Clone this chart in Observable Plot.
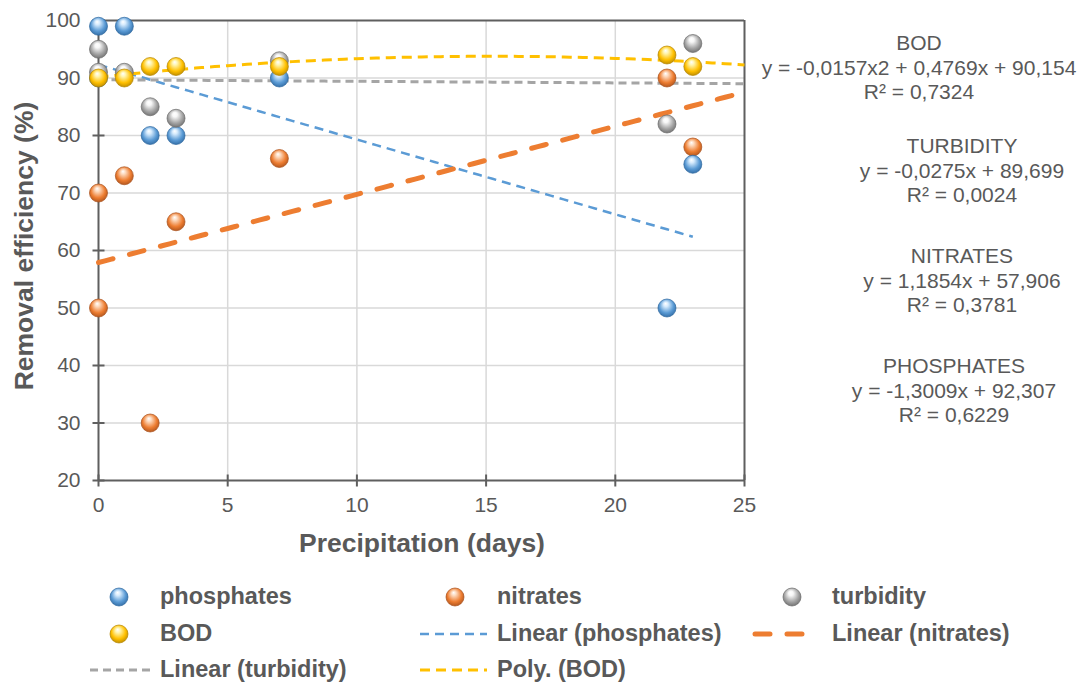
<!DOCTYPE html>
<html><head><meta charset="utf-8">
<script src="https://cdn.jsdelivr.net/npm/d3@7"></script>
<script src="https://cdn.jsdelivr.net/npm/@observablehq/plot@0.6"></script>
<style>
body{margin:0;background:#fff;}
#chart{position:relative;width:1085px;height:686px;font-family:"Liberation Sans",Arial,sans-serif;}
#chart svg{display:block;}
</style></head><body><div id="chart"></div>
<script>
// ---------- data ----------
const xTicks = [0, 5, 10, 15, 20, 25];
const yTicks = [20, 30, 40, 50, 60, 70, 80, 90, 100];
const xTitle = "Precipitation (days)";
const yTitle = "Removal efficiency (%)";

const seriesNames = ["phosphates", "nitrates", "turbidity", "BOD"];
const phosX = [0, 0, 1, 2, 3, 7, 22, 23];
const phosY = [99, 90, 99, 80, 80, 90, 50, 75];
const nitrX = [0, 0, 1, 2, 3, 7, 22, 23];
const nitrY = [70, 50, 73, 30, 65, 76, 90, 78];
const turbX = [0, 0, 1, 2, 3, 7, 22, 23];
const turbY = [95, 91, 91, 85, 83, 93, 82, 96];
const bodX = [0, 1, 2, 3, 7, 22, 23];
const bodY = [90, 90, 92, 92, 92, 94, 92];

const trendNames = ["Linear (phosphates)", "Linear (nitrates)", "Linear (turbidity)", "Poly. (BOD)"];
const trendCoef = [[92.307, -1.3009, 0], [57.906, 1.1854, 0], [89.699, -0.0275, 0], [90.154, 0.4769, -0.0157]];
const trendXmax = [23, 25, 25, 25];

const eqTitles = ["BOD", "TURBIDITY", "NITRATES", "PHOSPHATES"];
const eqLines = ["y = -0,0157x2 + 0,4769x + 90,154", "y = -0,0275x + 89,699", "y = 1,1854x + 57,906", "y = -1,3009x + 92,307"];
const eqR2 = ["R² = 0,7324", "R² = 0,0024", "R² = 0,3781", "R² = 0,6229"];

// ---------- styles ----------
const FONT = '"Liberation Sans", Arial, Helvetica, sans-serif';
const TXT = "#595959";
const AX = "#5f5f5f";
const base = ["#5B9BD5", "#ED7D31", "#A5A5A5", "#FFC000"];
const light = ["#d6ebfd", "#fdd9bd", "#f7f7f7", "#fff5b0"];
const dark = ["#2d679f", "#a9501b", "#6a6a6a", "#b58500"];
const trendStroke = ["#5B9BD5", "#ED7D31", "#A5A5A5", "#FFC000"];
const trendWidth = [2.5, 5, 3, 3];
const trendDash = ["9,6", "15,17", "8,5", "10,6"];
const trendCap = ["butt", "round", "butt", "butt"];

const pts = (xs, ys) => xs.map((x, i) => ({x, y: ys[i]}));
const seriesData = [pts(phosX, phosY), pts(nitrX, nitrY), pts(turbX, turbY), pts(bodX, bodY)];
const trendData = trendCoef.map((c, k) =>
  d3.range(0, trendXmax[k] + 1e-9, 0.25).map(x => ({x, y: c[0] + c[1] * x + c[2] * x * x})));

const drawOrder = [1, 0, 2, 3];

// crossing tick-mark symbols
const vTick = {draw(ctx) { ctx.moveTo(0, -6); ctx.lineTo(0, 6); }};
const hTick = {draw(ctx) { ctx.moveTo(-6, 0); ctx.lineTo(6, 0); }};

const plot = Plot.plot({
  width: 1085, height: 570,
  marginTop: 20, marginRight: 341, marginBottom: 90, marginLeft: 98,
  x: {domain: [0, 25]},
  y: {domain: [20, 100]},
  style: {fontFamily: FONT, color: TXT, background: "white", overflow: "visible"},
  marks: [
    Plot.gridX(xTicks.slice(1, -1), {stroke: "#d9d9d9", strokeOpacity: 1, strokeWidth: 1.5}),
    Plot.gridY(yTicks.slice(1, -1), {stroke: "#d9d9d9", strokeOpacity: 1, strokeWidth: 1.5}),
    Plot.ruleY([yTicks[0], yTicks[yTicks.length - 1]], {stroke: AX, strokeWidth: 2}),
    Plot.ruleX([xTicks[0], xTicks[xTicks.length - 1]], {stroke: AX, strokeWidth: 2}),
    Plot.dot(xTicks, {x: d => d, y: yTicks[0], symbol: vTick, fill: "none", stroke: AX, strokeWidth: 2}),
    Plot.dot(yTicks, {y: d => d, x: xTicks[0], symbol: hTick, fill: "none", stroke: AX, strokeWidth: 2}),
    Plot.axisX(xTicks, {tickSize: 0, tickPadding: 17, fontSize: 21, label: null, fill: TXT}),
    Plot.axisY(yTicks, {tickSize: 0, tickPadding: 18, fontSize: 21, label: null, fill: TXT}),
    ...trendData.map((d, k) => Plot.line(d, {
      x: "x", y: "y", stroke: trendStroke[k], strokeWidth: trendWidth[k],
      strokeDasharray: trendDash[k], strokeLinecap: trendCap[k]
    })),
    ...drawOrder.map(k => Plot.dot(seriesData[k], {
      x: "x", y: "y", r: 9, fill: `url(#sph${k})`, stroke: dark[k], strokeWidth: 0.7
    }))
  ]
});

function addGradients(svgSel) {
  const defs = svgSel.insert("defs", ":first-child");
  base.forEach((c, k) => {
    const g = defs.append("radialGradient").attr("id", `sph${k}`)
      .attr("cx", 0.5).attr("cy", 0.45).attr("r", 0.6).attr("fx", 0.42).attr("fy", 0.25);
    g.append("stop").attr("offset", 0).attr("stop-color", "#ffffff");
    g.append("stop").attr("offset", 0.22).attr("stop-color", light[k]);
    g.append("stop").attr("offset", 0.65).attr("stop-color", c);
    g.append("stop").attr("offset", 1).attr("stop-color", dark[k]);
  });
}

const chart = document.getElementById("chart");
chart.appendChild(plot);
const svg = d3.select(plot);
addGradients(svg);

// axis titles
svg.append("text").attr("x", 422).attr("y", 552).attr("text-anchor", "middle")
  .attr("font-family", FONT).attr("font-size", 26.5).attr("font-weight", "bold").attr("fill", TXT)
  .text(xTitle);
svg.append("text").attr("transform", "translate(33,246) rotate(-90)").attr("text-anchor", "middle")
  .attr("font-family", FONT).attr("font-size", 26.5).attr("font-weight", "bold").attr("fill", TXT)
  .text(yTitle);

// trendline equations
const eqCx = [919, 962, 962, 954];
const eqY = [50, 153, 263, 373];
eqTitles.forEach((t, k) => {
  [t, eqLines[k], eqR2[k]].forEach((s, j) => {
    svg.append("text").attr("x", eqCx[k]).attr("y", eqY[k] + j * 24.5).attr("text-anchor", "middle")
      .attr("font-family", FONT).attr("font-size", 21).attr("fill", TXT).text(s);
  });
});

// legend
const leg = d3.select(chart).append("svg").attr("width", 1085).attr("height", 116);
const top0 = 570;
const colMark = [119, 455, 792];
const colDash = [[90, 150], [420, 487], [755, 812]];
const colText = [160, 497, 832];
const rowY = [597, 634, 670].map(v => v - top0);
const items = [
  ...seriesNames.map((n, k) => ({type: "dot", k, label: n})),
  {type: "line", k: 0, label: trendNames[0]},
  {type: "line", k: 1, label: trendNames[1]},
  {type: "line", k: 2, label: trendNames[2]},
  {type: "line", k: 3, label: trendNames[3]}
];
items.forEach((it, i) => {
  const col = i % 3, row = Math.floor(i / 3);
  const cy = rowY[row];
  if (it.type === "dot") {
    leg.append("circle").attr("cx", colMark[col]).attr("cy", cy).attr("r", 9)
      .attr("fill", `url(#sph${it.k})`).attr("stroke", dark[it.k]).attr("stroke-width", 0.7);
  } else {
    leg.append("line").attr("x1", colDash[col][0]).attr("x2", colDash[col][1])
      .attr("y1", cy).attr("y2", cy).attr("stroke", trendStroke[it.k])
      .attr("stroke-width", trendWidth[it.k]).attr("stroke-dasharray", trendDash[it.k])
      .attr("stroke-linecap", trendCap[it.k]);
  }
  leg.append("text").attr("x", colText[col]).attr("y", cy + 6.5)
    .attr("font-family", FONT).attr("font-size", 23.5).attr("font-weight", "bold").attr("fill", TXT)
    .text(it.label);
});
</script></body></html>
